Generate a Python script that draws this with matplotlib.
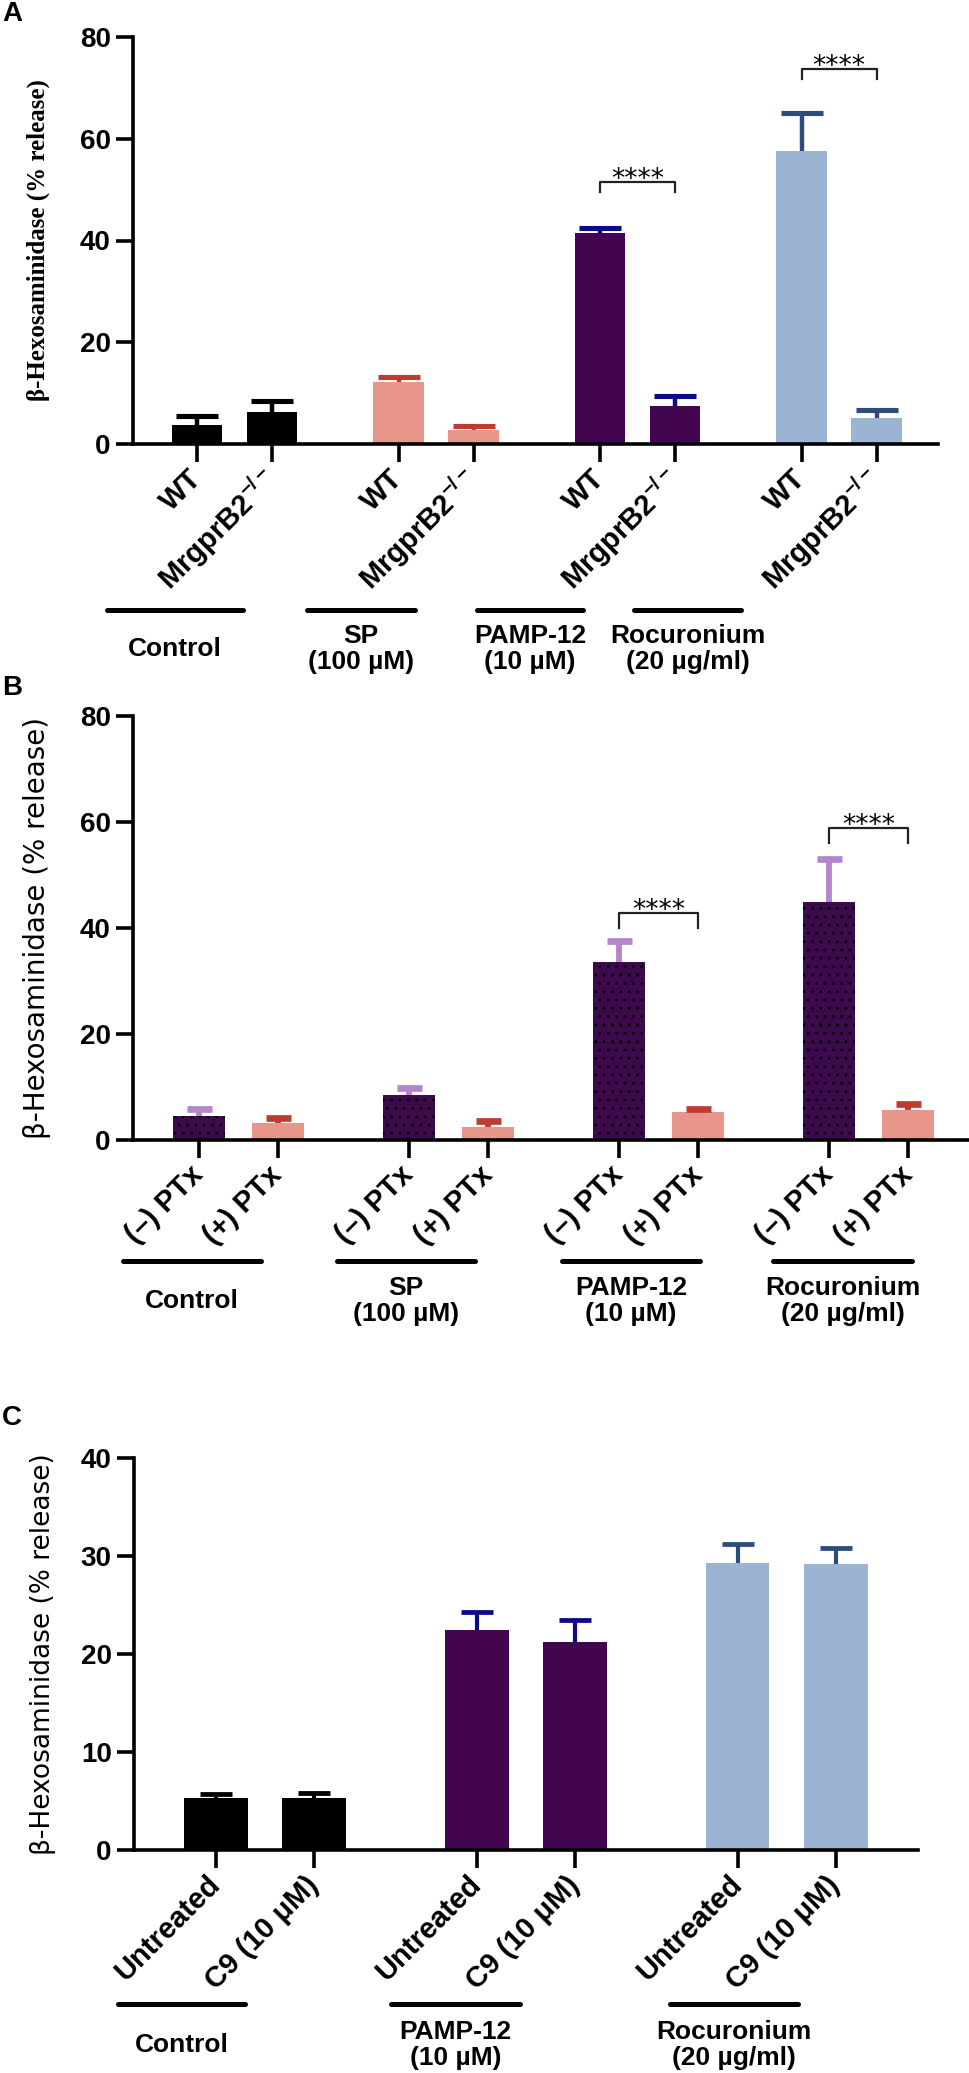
import numpy as np
import matplotlib
matplotlib.use("Agg")
import matplotlib.pyplot as plt
from matplotlib.lines import Line2D

plt.rcParams['font.family'] = ['Liberation Sans', 'DejaVu Sans']
plt.rcParams['mathtext.fontset'] = 'custom'
plt.rcParams['mathtext.rm'] = 'Liberation Sans'
plt.rcParams['mathtext.bf'] = 'Liberation Sans:bold'
plt.rcParams['hatch.linewidth'] = 0.9

W, H = 969, 2073

# ---- data ----
groups_ab = ['Control', 'SP\n(100 µM)', 'PAMP-12\n(10 µM)', 'Rocuronium\n(20 µg/ml)']
groups_c = ['Control', 'PAMP-12\n(10 µM)', 'Rocuronium\n(20 µg/ml)']

labels_a = ['WT', r'MrgprB2$^{\mathbf{-/-}}$'] * 4
mean_a = [3.7, 6.2, 12.1, 2.8, 41.5, 7.5, 57.5, 5.1]
sem_a = [1.8, 2.2, 1.1, 0.7, 1.0, 1.9, 7.6, 1.5]
sig_a = [(4, 5, 51.5), (6, 7, 73.7)]

labels_b = ['(\u2013) PTx', '(+) PTx'] * 4
mean_b = [4.5, 3.2, 8.5, 2.4, 33.6, 5.3, 44.9, 5.7]
sem_b = [1.4, 0.9, 1.3, 1.1, 4.0, 0.6, 8.1, 1.0]
sig_b = [(4, 5, 42.8), (6, 7, 58.8)]

labels_c = ['Untreated', 'C9 (10 \u03bcM)'] * 3
mean_c = [5.3, 5.3, 22.5, 21.2, 29.3, 29.2]
sem_c = [0.4, 0.5, 1.8, 2.3, 1.9, 1.6]

# colours
black = '#000000'
salmon = '#E8958B'
purple = '#43054F'
purple_b = '#3D0A4E'
blue = '#9CB4D3'
red = '#BF3A30'
navy = '#0B0B86'
steel = '#2C4D7C'
lavender = '#B585CC'

colors_a = [black, black, salmon, salmon, purple, purple, blue, blue]
ecolors_a = [black, black, red, red, navy, navy, steel, steel]
colors_b = [purple_b, salmon] * 4
ecolors_b = [lavender, red] * 4
hatches_b = ['..', None] * 4
colors_c = [black, black, purple, purple, blue, blue]
ecolors_c = [black, black, navy, navy, steel, steel]


def px_rect(left, top, right, bottom):
    return [left / W, 1 - bottom / H, (right - left) / W, (bottom - top) / H]


def draw_bars(ax, x, means, sems, colors, ecolors, width, capsize, ew, hatches=None):
    for i in range(len(x)):
        h = hatches[i] if hatches else None
        ax.bar(x[i], means[i], width=width, color=colors[i], hatch=h,
               edgecolor='black' if h else colors[i], linewidth=0, zorder=2)
        _, caps, _ = ax.errorbar(x[i], means[i], yerr=[[0], [sems[i]]], fmt='none',
                                 ecolor=ecolors[i], elinewidth=ew, capsize=capsize,
                                 capthick=ew * 1.15, zorder=3, clip_on=False)
        caps[0].set_visible(False)  # only the upper half is drawn


def style_axes(ax, ymax, ystep, xlim, x, labels, ylabel, yfont, ysize, ylab_x):
    ax.set_ylim(0, ymax)
    ax.set_xlim(*xlim)
    ax.set_yticks(np.arange(0, ymax + 1, ystep))
    ax.spines['top'].set_visible(False)
    ax.spines['right'].set_visible(False)
    for s in ['left', 'bottom']:
        ax.spines[s].set_linewidth(2.6)
    ax.tick_params(axis='y', width=2.6, length=12, pad=4, labelsize=20)
    ax.tick_params(axis='x', width=2.6, length=13, pad=9)
    for t in ax.get_yticklabels():
        t.set_fontweight('bold')
    ax.set_xticks(x)
    ax.set_xticklabels(labels, rotation=45, ha='right', va='center',
                       rotation_mode='anchor', fontsize=21, fontweight='bold')
    ax.set_ylabel(ylabel, fontsize=ysize, family=yfont,
                  fontweight='bold' if 'Serif' in yfont[0] else 'normal', va='center')
    ax.yaxis.set_label_coords(ylab_x, 0.5)


def brackets(ax, x, sigs, leg):
    for i, j, y in sigs:
        ax.plot([x[i], x[i], x[j], x[j]], [y - leg, y, y, y - leg], color='#222222',
                lw=1.6, clip_on=False, zorder=4)
        ax.annotate('****', ((x[i] + x[j]) / 2, y), xytext=(0, -8),
                    textcoords='offset points', ha='center', va='bottom',
                    fontsize=19, family='DejaVu Sans', clip_on=False)


def group_lines(fig, spans, y_line, names, y_text, size):
    for (l, r), name in zip(spans, names):
        fig.add_artist(Line2D([l / W, r / W], [1 - y_line / H, 1 - y_line / H],
                              color='black', lw=3.6, solid_capstyle='round'))
        fig.text((l + r) / 2 / W, 1 - y_text / H, name, ha='center', va='center',
                 fontsize=size, fontweight='bold', linespacing=1.15)


fig = plt.figure(figsize=(W / 100, H / 100), dpi=100)

# ---------- panel A ----------
axA = fig.add_axes(px_rect(133, 37, 938, 444))
xa = np.array([g * 2.687 + k for g in range(4) for k in range(2)])
draw_bars(axA, xa, mean_a, sem_a, colors_a, ecolors_a, 0.67, 15, 3.2)
style_axes(axA, 80, 20, (-0.853, 9.88), xa, labels_a,
           '\u03b2-Hexosaminidase (% release)', ['Liberation Serif', 'DejaVu Serif'], 18,
           (38 - 133) / 805)
brackets(axA, xa, sig_a, 2.0)
group_lines(fig, [(107, 243), (307, 415), (477, 583), (634, 741)], 610,
            groups_ab, 649, 19)
fig.text(2 / W, 1 - 14 / H, 'A', fontsize=20, fontweight='bold', va='center')

# ---------- panel B ----------
axB = fig.add_axes(px_rect(133, 716, 969, 1140))
xb = np.array([g * 2.66 + k for g in range(4) for k in range(2)])
draw_bars(axB, xb, mean_b, sem_b, colors_b, ecolors_b, 0.66, 9, 4.2, hatches_b)
style_axes(axB, 80, 20, (-0.835, 9.75), xb, labels_b,
           '\u03b2-Hexosaminidase (% release)', ['DejaVu Sans'], 20,
           (37 - 133) / 836)
brackets(axB, xb, sig_b, 2.8)
group_lines(fig, [(123, 261), (337, 475), (562, 700), (773, 912)], 1261,
            groups_ab, 1301, 19)
fig.text(2 / W, 1 - 688 / H, 'B', fontsize=20, fontweight='bold', va='center')

# ---------- panel C ----------
axC = fig.add_axes(px_rect(134, 1458, 918, 1850))
xc = np.array([g * 2.66 + k for g in range(3) for k in range(2)])
draw_bars(axC, xc, mean_c, sem_c, colors_c, ecolors_c, 0.65, 11.5, 3.0)
style_axes(axC, 40, 10, (-0.837, 7.16), xc, labels_c,
           '\u03b2-Hexosaminidase (% release)', ['DejaVu Sans'], 19,
           (43 - 134) / 784)
group_lines(fig, [(118, 245), (391, 520), (670, 798)], 2004,
            groups_c, 2045, 19)
fig.text(2 / W, 1 - 1418 / H, 'C', fontsize=20, fontweight='bold', va='center')

fig.savefig('out.png', dpi=100)
